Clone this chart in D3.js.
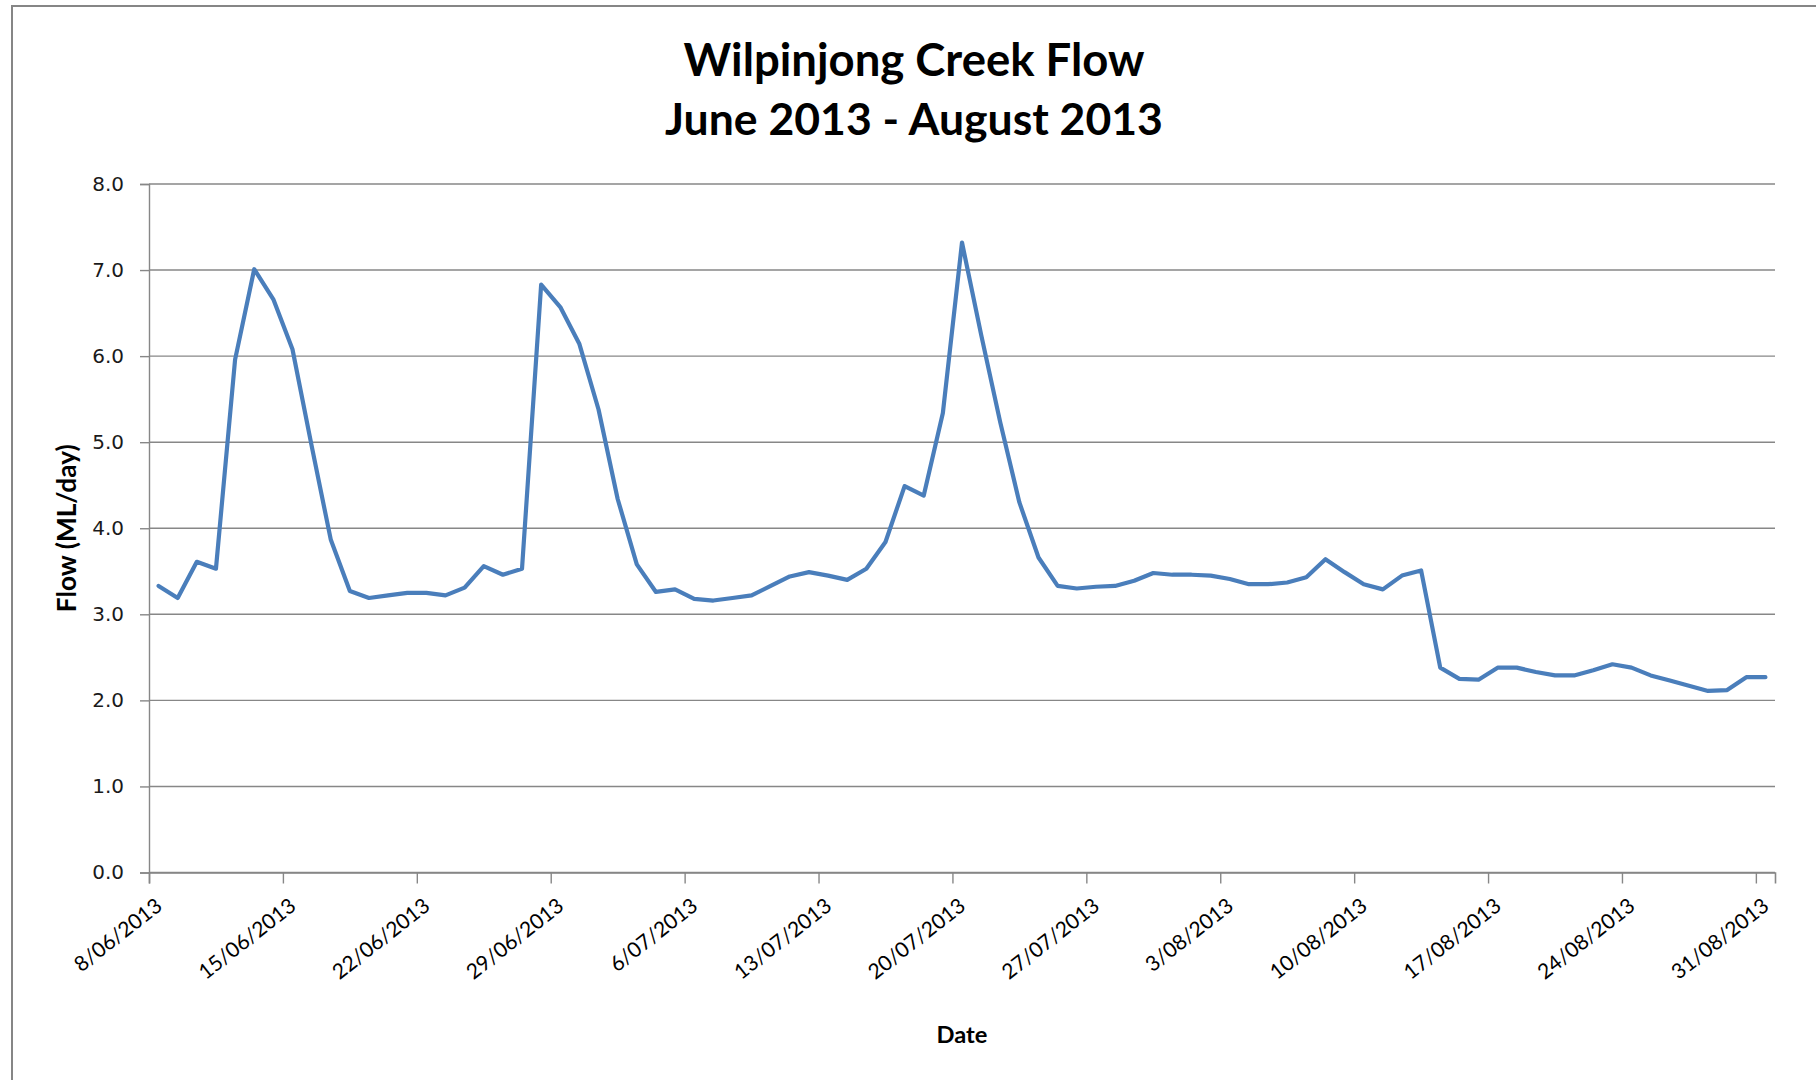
<!DOCTYPE html>
<html>
<head>
<meta charset="utf-8">
<script src="https://cdn.jsdelivr.net/npm/d3@7"></script>
<style>
  html, body { margin: 0; padding: 0; background: #fff; }
  svg { display: block; }
</style>
</head>
<body>
<div id="chart"></div>
<script>
// ---------- data ----------
const titleLines = ["Wilpinjong Creek Flow", "June 2013 - August 2013"];
const yAxisTitle = "Flow (ML/day)";
const xAxisTitle = "Date";
const startDate = "2013-06-08";   // first daily reading
const axisEndDate = "2013-09-01";
// daily flow (ML/day), 8/06/2013 .. 31/08/2013
const flow = [
  3.33, 3.19, 3.61, 3.53, 5.96, 7.01, 6.66, 6.08, 4.96, 3.87,   // 8/06 - 17/06
  3.27, 3.19, 3.22, 3.25, 3.25, 3.22, 3.31, 3.56, 3.46, 3.53,   // 18/06 - 27/06
  6.83, 6.57, 6.14,                                             // 28/06 - 30/06
  5.38, 4.34, 3.58, 3.26, 3.29, 3.18, 3.16, 3.19, 3.22, 3.33,   // 1/07 - 10/07
  3.44, 3.49, 3.45, 3.40, 3.53, 3.84, 4.49, 4.38, 5.34, 7.32,   // 11/07 - 20/07
  6.25, 5.23, 4.30, 3.66, 3.33, 3.30, 3.32, 3.33, 3.39, 3.48,   // 21/07 - 30/07
  3.46,                                                         // 31/07
  3.46, 3.45, 3.41, 3.35, 3.35, 3.37, 3.43, 3.64, 3.49, 3.35,   // 1/08 - 10/08
  3.29, 3.45, 3.51, 2.38, 2.25, 2.24, 2.38, 2.38, 2.33, 2.29,   // 11/08 - 20/08
  2.29, 2.35, 2.42, 2.38, 2.29, 2.23, 2.17, 2.11, 2.12, 2.27,   // 21/08 - 30/08
  2.27                                                          // 31/08
];
const xTickDates = ["2013-06-08","2013-06-15","2013-06-22","2013-06-29","2013-07-06",
  "2013-07-13","2013-07-20","2013-07-27","2013-08-03","2013-08-10","2013-08-17",
  "2013-08-24","2013-08-31"];
const yTicks = [0, 1, 2, 3, 4, 5, 6, 7, 8];

// ---------- layout ----------
const W = 1816, H = 1080;
const plot = { left: 149, right: 1775, top: 184, bottom: 872.5 };
const parse = d3.utcParse("%Y-%m-%d");
const start = parse(startDate);
const series = flow.map((v, i) => ({ date: d3.utcHour.offset(d3.utcDay.offset(start, i), 12), value: v }));

const svg = d3.select("#chart").append("svg").attr("width", W).attr("height", H);

svg.append("rect").attr("x", 0).attr("y", 0).attr("width", W).attr("height", H).attr("fill", "#fff");
// outer chart frame
svg.append("rect").attr("x", 12).attr("y", 6).attr("width", W + 40).attr("height", H + 40)
  .attr("fill", "none").attr("stroke", "#868686").attr("stroke-width", 2);

const x = d3.scaleUtc().domain([start, parse(axisEndDate)]).range([plot.left, plot.right]);
const y = d3.scaleLinear().domain([0, 8]).range([plot.bottom, plot.top]);

const gridColor = "#878787";

// gridlines
svg.append("g").selectAll("line").data(yTicks).join("line")
  .attr("x1", plot.left).attr("x2", plot.right)
  .attr("y1", d => y(d)).attr("y2", d => y(d))
  .attr("stroke", gridColor).attr("stroke-width", d => d === 8 ? 1.6 : 1.4);

// y axis
const yAxis = d3.axisLeft(y).tickValues(yTicks).tickFormat(d3.format(".1f")).tickSize(9).tickPadding(16);
const gy = svg.append("g").attr("transform", `translate(${plot.left},0)`).call(yAxis);
gy.select(".domain").attr("stroke", gridColor).attr("stroke-width", 1.4);
gy.selectAll(".tick line").attr("stroke", gridColor).attr("stroke-width", 1.4);
gy.selectAll(".tick text").attr("font-family", "DejaVu Sans").attr("font-size", 20)
  .attr("fill", "#1a1a1a");

// x axis
const xAxis = d3.axisBottom(x).tickValues(xTickDates.map(parse))
  .tickFormat(d3.utcFormat("%-d/%m/%Y")).tickSize(11).tickPadding(0);
const gx = svg.append("g").attr("transform", `translate(0,${plot.bottom})`).call(xAxis);
gx.select(".domain").attr("stroke", gridColor).attr("stroke-width", 1.6);
gx.selectAll(".tick line").attr("stroke", gridColor).attr("stroke-width", 1.4);
gx.selectAll(".tick text")
  .attr("font-family", "Lato").attr("font-size", 21).attr("fill", "#000")
  .attr("text-anchor", "end").attr("dy", 0).attr("y", 0)
  .attr("transform", "translate(14,36) rotate(-38)");

// line
const line = d3.line().x(d => x(d.date)).y(d => y(d.value));
svg.append("path").datum(series)
  .attr("d", line).attr("fill", "none")
  .attr("stroke", "#4a7ebb").attr("stroke-width", 4.2)
  .attr("stroke-linejoin", "round").attr("stroke-linecap", "round");

// helper: size text to a measured width
function fitWidth(sel, target) {
  const w = sel.node().getComputedTextLength();
  const fs = parseFloat(sel.attr("font-size"));
  sel.attr("font-size", fs * target / w);
}

// title
const t1 = svg.append("text").attr("x", 914).attr("y", 76)
  .attr("text-anchor", "middle").attr("font-family", "Lato").attr("font-weight", "bold")
  .attr("font-size", 44).attr("fill", "#000").text(titleLines[0]);
fitWidth(t1, 461);
const t2 = svg.append("text").attr("x", 914).attr("y", 135)
  .attr("text-anchor", "middle").attr("font-family", "Lato").attr("font-weight", "bold")
  .attr("font-size", 44).attr("fill", "#000").text(titleLines[1]);
fitWidth(t2, 498);

// y-axis title
const yt = svg.append("text")
  .attr("transform", `translate(76,${(plot.top + plot.bottom) / 2}) rotate(-90)`)
  .attr("text-anchor", "middle").attr("font-family", "Lato").attr("font-weight", "bold")
  .attr("font-size", 24).attr("fill", "#000").text(yAxisTitle);
fitWidth(yt, 168);

// x-axis title
const xt = svg.append("text").attr("x", (plot.left + plot.right) / 2).attr("y", 1043)
  .attr("text-anchor", "middle").attr("font-family", "Lato").attr("font-weight", "bold")
  .attr("font-size", 24).attr("fill", "#000").text(xAxisTitle);
fitWidth(xt, 51);
</script>
</body>
</html>
